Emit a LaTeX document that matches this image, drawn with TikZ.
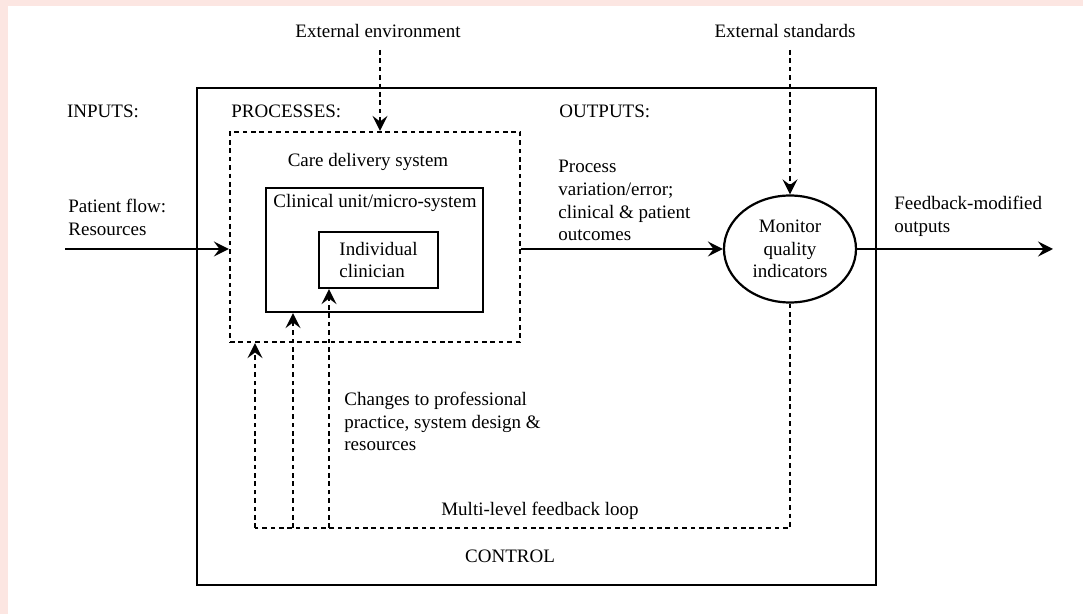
\documentclass[tikz,border=0pt]{standalone}
\usepackage{fontspec}
\setmainfont{Liberation Serif}
\usepackage{tikz}
\usetikzlibrary{calc, positioning, shapes.geometric}
\usetikzlibrary{arrows.meta}
\tikzset{>={Stealth[length=7.5pt,width=7.5pt,inset=2.8pt]}}
\usepackage{xcolor}
\definecolor{mypink}{HTML}{FCE6E2}

\begin{document}
\begin{tikzpicture}[x=0.5pt,y=-0.5pt,font=\fontsize{9.5}{11.3}\selectfont,
		solidbox/.style={draw,line width=1.1pt,inner sep=0pt},
		dashbox/.style={draw,line width=1.1pt,dash pattern=on 2.3pt off 1.9pt,inner sep=0pt},
		dashline/.style={line width=1.1pt,dash pattern=on 2.3pt off 1.9pt},
		flow/.style={line width=1.1pt,->}]
			\useasboundingbox (0,0) rectangle (1083,614);
			\fill [mypink] (0,0) rectangle (1083,614);
			\fill [white] (8,6) rectangle (1083,614);
			% boxes
			\node [solidbox,minimum width=339.5pt,minimum height=248.5pt] (control) at (536.5,336.5) {};
			\node [dashbox,minimum width=145pt,minimum height=105pt] (procs) at (375,237) {};
			\node [solidbox,minimum width=108.5pt,minimum height=62pt] (unit) at (374.5,250) {};
			\node [solidbox,minimum width=59.5pt,minimum height=28pt,align=left] (clin) at (378.5,260) {Individual\\clinician};
			\node [solidbox,ellipse,minimum width=66pt,minimum height=53.5pt,align=center] (monitor) at (790,249) {Monitor\\quality\\indicators};
			% labels
			\node [anchor=base] (inputs) at (103,118) {INPUTS:};
			\node [anchor=base west,inner sep=0pt] (processes) at (231,118) {PROCESSES:};
			\node [anchor=base west,inner sep=0pt] (outputs) at (559,118) {OUTPUTS:};
			\node [anchor=base] (env) at (378,38) {External environment};
			\node [anchor=base] (std) at (785,38) {External standards};
			\node [anchor=base] (care) at (368,167) {Care delivery system};
			\node [anchor=base] (unitlabel) at (375,208) {Clinical unit/micro-system};
			\node [anchor=north west,inner sep=0pt,align=left] (patient) at (68,199) {Patient flow:\\Resources};
			\node [anchor=north west,inner sep=0pt,align=left] (variation) at (558,160) {Process\\variation/error;\\clinical \& patient\\outcomes};
			\node [anchor=north west,inner sep=0pt,align=left] (modified) at (894,196) {Feedback-modified\\outputs};
			\node [anchor=north west,inner sep=0pt,align=left] (changes) at (344,392) {Changes to professional\\practice, system design \&\\resources};
			\node [anchor=base] (loop) at (540,516) {Multi-level feedback loop};
			\node [anchor=base] (ctrl) at (510,563) {CONTROL};
			% main flow
			\coordinate (in) at (65,249);
			\coordinate (out) at (1053,249);
			\draw [flow] (in) -- (in -| procs.west);
			\draw [flow] (procs.east |- monitor.west) -- (monitor.west);
			\draw [flow] (monitor.east) -- (out);
			% external influences
			\coordinate (envtop) at (380,50);
			\coordinate (stdtop) at (790,50);
			\draw [dashline,->] (envtop) -- (envtop |- procs.north);
			\draw [dashline,->] (stdtop) -- (monitor.north);
			% feedback loop
			\coordinate (fbr) at (790,528);
			\coordinate (fbl) at (255,528);
			\coordinate (fbm) at (293,528);
			\coordinate (fbc) at (329,528);
			\draw [dashline] (monitor.south) -- (fbr) -- (fbl);
			\draw [dashline,->] (fbl) -- (fbl |- procs.south);
			\draw [dashline,->] (fbm) -- (fbm |- unit.south);
			\draw [dashline,->] (fbc) -- (fbc |- clin.south);
		\end{tikzpicture}
\end{document}
